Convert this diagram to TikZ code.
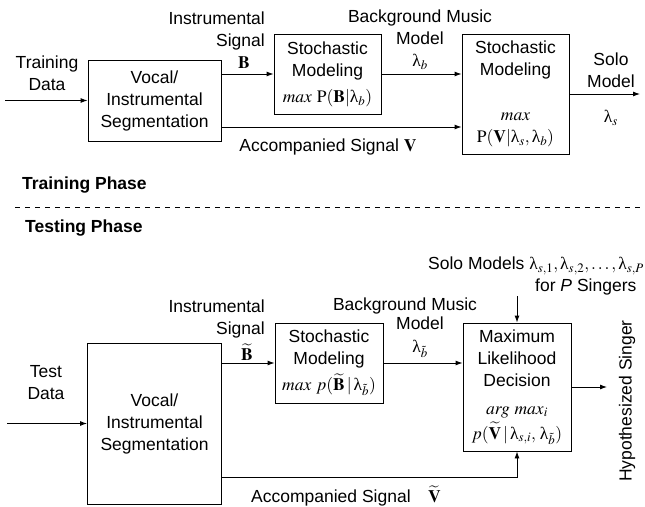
\documentclass[tikz,border=0pt]{standalone}
\usepackage{amsmath}
\usepackage{mathptmx}
\usepackage[no-math]{fontspec}
\setmainfont{Liberation Sans}
\newfontfamily\tmsfont{Liberation Serif}
\newcommand{\lam}{\text{\tmsfont λ}}
\usetikzlibrary{arrows.meta}

\tikzset{
  block/.style={draw, line width=0.9pt, align=center, inner sep=0pt},
  lbl/.style={align=center, inner sep=0pt},
  flow/.style={-{Latex[length=7pt,width=5pt]}, line width=0.9pt},
  phase/.style={font=\fontsize{17.5}{22}\selectfont\bfseries, anchor=west, inner sep=0pt},
}

\begin{document}
\begin{tikzpicture}[x=1pt, y=-1pt, font=\fontsize{17.5}{22}\selectfont]
\useasboundingbox (0,0) rectangle (645,506);

% training phase
\node[lbl] (trdata) at (47,73) {Training\\Data};
\node[block, minimum width=133pt, minimum height=81pt] (seg) at (154.5,100.5) {Vocal/\\Instrumental\\Segmentation};
\node[block, minimum width=107pt, minimum height=80pt] (bgmod) at (327.5,74) {Stochastic\\Modeling\\[4pt]$\mathit{max}\ \mathrm{P}(\mathbf{B}|\lam_b)$};
\node[block, minimum width=107pt, minimum height=120pt] (solomod) at (515.5,94) {Stochastic\\Modeling\\[23pt]$\mathit{max}$\\$\mathrm{P}(\mathbf{V}|\lam_s,\lam_b)$};

\coordinate (trin) at (5,100.5);
\coordinate (acc) at (221,127);
\coordinate (soloout) at (640,94);
\draw[flow] (trin) -- (seg.west);
\draw[flow] (seg.east |- bgmod.west) -- (bgmod.west);
\draw[flow] (bgmod.east) -- (bgmod.east -| solomod.west);
\draw[flow] (seg.east |- acc) -- (solomod.west |- acc);
\draw[flow] (solomod.east) -- (soloout);

\node[lbl, align=right, anchor=east] (sigb) at (265,31) {Instrumental\\Signal};
\node[lbl] (bvec) at (244,63) {$\mathbf{B}$};
\node[lbl] (bgm) at (420,40) {Background Music\\Model\\$\lam_b$};
\node[lbl] (accv) at (328,147) {Accompanied Signal $\mathbf{V}$};
\node[lbl] (solo) at (611,70) {Solo\\Model};
\node[lbl] (lams) at (611,118) {$\lam_s$};

\node[phase] (trph) at (22,185) {Training Phase};
\draw[dash pattern=on 5pt off 5pt, line width=0.9pt] (15,207) -- (645,207);
\node[phase] (tsph) at (25,228) {Testing Phase};

% testing phase
\node[lbl] (tsdata) at (46,383) {Test\\Data};
\node[block, minimum width=134pt, minimum height=161pt] (segt) at (154.5,423.5) {Vocal/\\Instrumental\\Segmentation};
\node[block, minimum width=108pt, minimum height=80pt] (bgest) at (329,363) {Stochastic\\Modeling\\[4pt]$\mathit{max}\ p(\widetilde{\mathbf{B}}\,|\,\lam_{\tilde b})$};
\node[block, minimum width=108pt, minimum height=128pt] (mld) at (517,387) {Maximum\\Likelihood\\Decision\\[6pt]$\mathit{arg}\ \mathit{max}_i$\\[3pt]$p(\widetilde{\mathbf{V}}\,|\,\lam_{s,i},\,\lam_{\tilde b})$};

\coordinate (tsin) at (7,423.5);
\coordinate (acct) at (222,477);
\coordinate (models) at (517,296);
\coordinate (singer) at (607,387);
\draw[flow] (tsin) -- (segt.west);
\draw[flow] (segt.east |- bgest.west) -- (bgest.west);
\draw[flow] (bgest.east) -- (bgest.east -| mld.west);
\draw[flow] (segt.east |- acct) -| (mld.south);
\draw[flow] (models) -- (mld.north);
\draw[flow] (mld.east) -- (singer);

\node[lbl, align=right, anchor=east] (sigbt) at (265,319) {Instrumental\\Signal};
\node[lbl] (bvect) at (247,352) {$\widetilde{\mathbf{B}}$};
\node[lbl] (bgmt) at (405,306) {Background Music};
\node[lbl] (modt) at (420,337) {Model\\[1pt]$\lam_{\tilde b}$};
\node[lbl, anchor=west] (solos) at (428,266) {Solo Models $\lam_{s,1},\lam_{s,2},\ldots,\lam_{s,P}$};
\node[lbl, anchor=west] (singers) at (535,287) {for \textit{P} Singers};
\node[lbl] (accvt) at (346,496) {Accompanied Signal\quad$\widetilde{\mathbf{V}}$};
\node[lbl, rotate=90] (hyp) at (627,401) {Hypothesized Singer};
\end{tikzpicture}
\end{document}
